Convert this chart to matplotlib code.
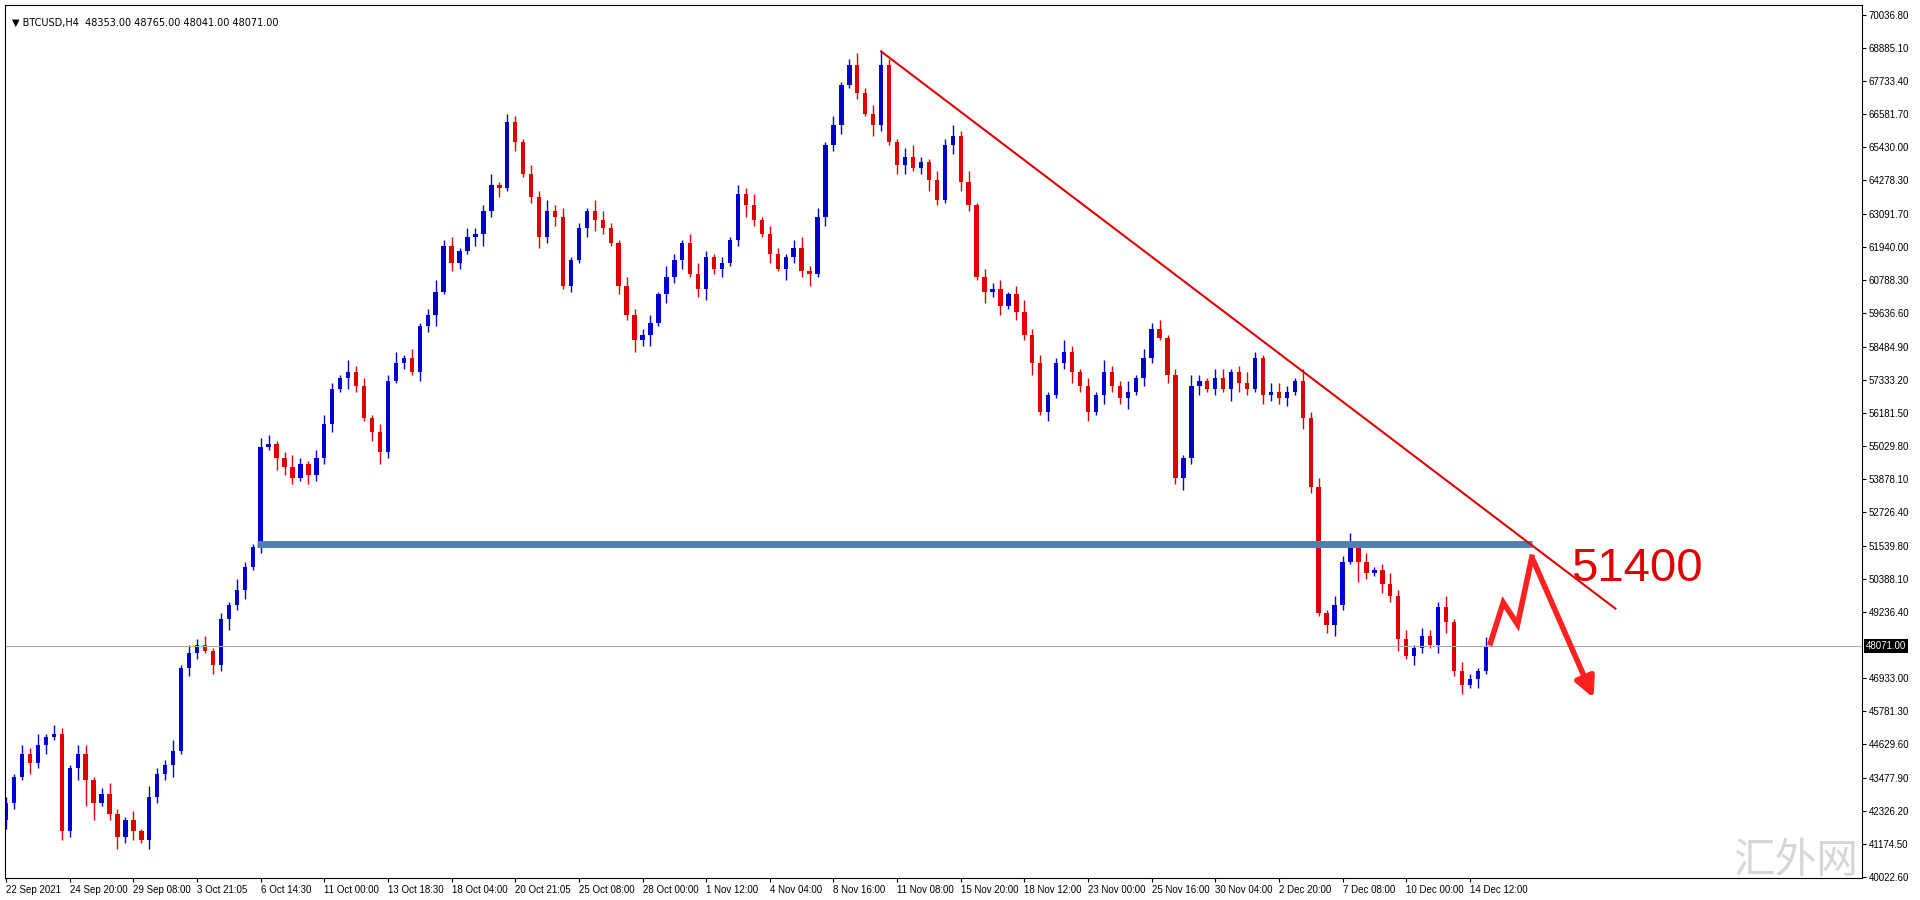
import matplotlib
matplotlib.use('Agg')
import matplotlib.pyplot as plt

plt.rcParams['font.family'] = ['Liberation Sans', 'DejaVu Sans', 'Noto Sans CJK SC']

# closes in thousands, one candle per two H4 bars
closes = [42.6, 43.5, 44.3, 44.0, 44.6, 44.9, 45.0, 41.6, 43.8, 44.3,
          43.4, 42.6, 42.9, 42.2, 41.4, 42.0, 41.6, 41.3, 42.8, 43.6,
          43.9, 44.4, 47.3, 47.8, 48.1, 47.9, 47.4, 49.0, 49.5, 50.0,
          50.8, 51.5, 55.0, 55.1, 54.6, 54.3, 53.9, 54.4, 54.0, 54.6,
          55.8, 57.0, 57.4, 57.6, 57.1, 56.0, 55.5, 54.8, 57.3, 57.9,
          58.1, 57.6, 59.2, 59.6, 60.4, 62.0, 61.4, 61.8, 62.3, 62.4,
          63.2, 64.1, 64.0, 66.3, 65.6, 64.5, 63.7, 62.3, 63.2, 63.0,
          60.6, 61.5, 62.6, 63.2, 62.9, 62.6, 62.1, 60.6, 59.6, 58.7,
          58.9, 59.3, 60.3, 60.9, 61.5, 62.1, 61.0, 60.5, 61.6, 61.2,
          61.4, 62.2, 63.8, 63.4, 62.9, 62.4, 61.7, 61.2, 61.6, 61.9,
          61.1, 61.0, 63.0, 65.5, 66.2, 67.6, 68.3, 67.3, 66.6, 66.2,
          68.3, 65.6, 64.8, 65.1, 64.7, 64.9, 64.3, 63.6, 65.5, 65.8,
          64.2, 63.4, 60.9, 60.4, 60.5, 59.9, 60.3, 59.7, 58.9, 57.9,
          56.2, 56.8, 57.9, 58.3, 57.6, 57.1, 56.2, 56.8, 57.6, 57.1,
          56.7, 56.9, 57.4, 58.1, 59.1, 58.8, 57.5, 53.9, 54.6, 57.1,
          57.3, 57.0, 57.4, 57.0, 57.6, 57.2, 57.0, 58.1, 56.8, 56.9,
          56.7, 56.9, 57.3, 56.0, 53.6, 49.2, 48.8, 49.5, 51.0, 51.6,
          51.0, 50.6, 50.7, 50.2, 49.8, 48.3, 47.7, 48.0, 48.4, 48.1,
          49.4, 48.9, 47.2, 46.7, 46.9, 47.2, 48.071]
# wick lengths in hundreds
wick_up = ("2132413213312421314224132312142133124213"
           "3214231324131242313224132132423121432132"
           "2314213421213241321342313124235213421324"
           "2413231342312421314224132312142133124213"
           "32142313241312423132241321324211")
wick_dn = ("3214231324961242313224132132423121432132"
           "2314213421213241321342313124231213421324"
           "2413231342312421314224132312142133124213"
           "3214231324131242313224132132423121432132"
           "23142134217213241321342313124235")
first_open = 42.0

time_labels = ['22 Sep 2021', '24 Sep 20:00', '29 Sep 08:00', '3 Oct 21:05', '6 Oct 14:30',
               '11 Oct 00:00', '13 Oct 18:30', '18 Oct 04:00', '20 Oct 21:05', '25 Oct 08:00',
               '28 Oct 00:00', '1 Nov 12:00', '4 Nov 04:00', '8 Nov 16:00', '11 Nov 08:00',
               '15 Nov 20:00', '18 Nov 12:00', '23 Nov 00:00', '25 Nov 16:00', '30 Nov 04:00',
               '2 Dec 20:00', '7 Dec 08:00', '10 Dec 00:00', '14 Dec 12:00']
price_labels = ['70036.80', '68885.10', '67733.40', '66581.70', '65430.00', '64278.30',
                '63091.70', '61940.00', '60788.30', '59636.60', '58484.90', '57333.20',
                '56181.50', '55029.80', '53878.10', '52726.40', '51539.80', '50388.10',
                '49236.40', '46933.00', '45781.30', '44629.60', '43477.90', '42326.20',
                '41174.50', '40022.60']
last_price = 48071.00
level = 51600
trend_pts = [(110, 68760), (202.3, 49360)]
path_idx = [186.6, 188.2, 190.0, 191.8, 199.7]
path_px = [48170, 49570, 48810, 51150, 46160]

fig = plt.figure(figsize=(19.2, 9), dpi=100)
ax = fig.add_axes([5 / 1920, 22 / 900, 1857 / 1920, 873 / 900])

opens = [first_open] + closes[:-1]
for i, c in enumerate(closes):
    o = opens[i] * 1000
    cl = c * 1000
    hi = max(o, cl) + int(wick_up[i]) * 100
    lo = min(o, cl) - int(wick_dn[i]) * 100
    col = '#0000D0' if cl >= o else '#E00000'
    ax.vlines(i, lo, hi, color=col, lw=1)
    ax.bar(i, max(abs(cl - o), 40), bottom=min(o, cl), width=0.55, color=col, lw=0)

ax.axhline(last_price, color='#AAAAAA', lw=0.8)
ax.hlines(level, 31.5, 191.8, color='#4F81B0', lw=5)
ax.plot([p[0] for p in trend_pts], [p[1] for p in trend_pts], color='#E00000', lw=1.5)
ax.plot(path_idx[:-1], path_px[:-1], color='#FF2020', lw=4, solid_joinstyle='miter')
ax.annotate('', xy=(path_idx[-1], path_px[-1]), xytext=(path_idx[-2], path_px[-2]),
            arrowprops=dict(arrowstyle='-|>,head_length=1.2,head_width=0.6',
                            color='#FF2020', lw=4))
ax.text(205, 50725, '51400', color='#E00000', fontsize=34, ha='center', va='center')

ax.set_xlim(-0.14, 233.3)
ax.set_ylim(39980, 70378)
ax.set_xticks([8 * k for k in range(len(time_labels))])
ax.set_xticklabels(time_labels, fontsize=7, ha='left')
ax.yaxis.tick_right()
ax.set_yticks([float(s) for s in price_labels])
ax.set_yticklabels(price_labels, fontsize=7)
ax.tick_params(axis='both', length=3, pad=2)
ax.text(1.002, (last_price - 39980) / (70378 - 39980), '48071.00', transform=ax.transAxes,
        fontsize=7, color='white', va='center', ha='left',
        bbox=dict(facecolor='black', edgecolor='none', pad=1.5))
ax.text(0.004, 0.985, '\u25bc BTCUSD,H4  48353.00 48765.00 48041.00 48071.00',
        family=['DejaVu Sans'], transform=ax.transAxes, fontsize=7, va='top')
fig.text(0.935, 0.02, '汇外网', family=['Noto Sans CJK SC'], fontsize=30,
         color='#BBBBBB', alpha=0.6, ha='center', va='bottom')

fig.savefig('out.png', dpi=100)
